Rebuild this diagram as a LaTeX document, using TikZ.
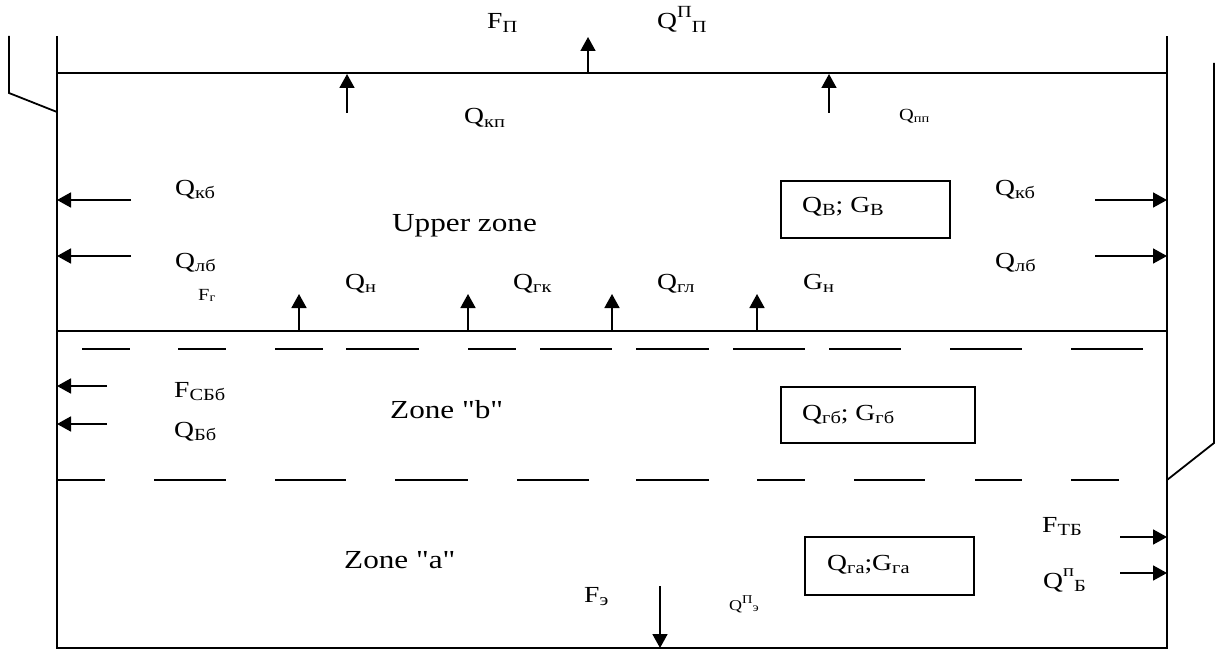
\documentclass[tikz,border=0pt]{standalone}
\usepackage{fontspec}
\setmainfont{Liberation Serif}[FakeStretch=1.2,Ligatures=TeXOff]
\usetikzlibrary{arrows.meta}
\newcommand\mysub[1]{\raisebox{-0.16em}{\fontsize{17}{17}\selectfont #1}}
\newcommand\mysup[1]{\raisebox{0.5em}{\fontsize{17}{17}\selectfont #1}}
\newcommand\smsub[1]{\raisebox{-0.1em}{\fontsize{12}{12}\selectfont #1}}
\newcommand\smsup[1]{\raisebox{0.45em}{\fontsize{12}{12}\selectfont #1}}
\begin{document}
\begin{tikzpicture}[x=1pt,y=-1pt,
  wall/.style={line width=1.8pt},
  dsh/.style={line width=1.5pt},
  arr/.style={line width=1.7pt,-{Triangle[length=14pt,width=15pt]}},
  lbl/.style={inner sep=0pt,anchor=base west,font=\fontsize{23}{26}\selectfont},
  small/.style={inner sep=0pt,anchor=base west,font=\fontsize{17}{20}\selectfont},
  tiny/.style={inner sep=0pt,anchor=base west,font=\fontsize{15}{18}\selectfont},
  zonelbl/.style={inner sep=0pt,anchor=base west,font=\fontsize{26}{30}\selectfont},
  valbox/.style={draw,line width=1.6pt}]
\useasboundingbox (0,0) rectangle (1215,650);
% walls
\draw[wall] (57,36) -- (57,648) -- (1167,648) -- (1167,36);
\draw[wall] (57,73) -- (1167,73);
\draw[wall] (57,331) -- (1167,331);
\draw[wall] (9,36) -- (9,93) -- (57,112);
\draw[wall] (1214,63) -- (1214,443) -- (1167,480);
% dashed lines
\foreach \a/\b in {82/130,178/226,275/323,346/419,468/516,540/612,636/709,733/805,829/901,950/1022,1071/1143}
  \draw[dsh] (\a,349) -- (\b,349);
\foreach \a/\b in {57/105,154/226,275/346,395/468,517/589,636/709,757/805,854/925,975/1022,1071/1119}
  \draw[dsh] (\a,480) -- (\b,480);
% boxes
\draw[valbox] (781,181) rectangle (950,238);
\draw[valbox] (781,387) rectangle (975,443);
\draw[valbox] (805,537) rectangle (974,595);
% arrows
\draw[arr] (588,73) -- (588,37);
\draw[arr] (347,113) -- (347,74);
\draw[arr] (829,113) -- (829,74);
\draw[arr] (131,200) -- (57,200);
\draw[arr] (131,256) -- (57,256);
\draw[arr] (1095,200) -- (1167,200);
\draw[arr] (1095,256) -- (1167,256);
\foreach \x in {299,468,612,757} \draw[arr] (\x,331) -- (\x,294);
\draw[arr] (107,386) -- (57,386);
\draw[arr] (107,424) -- (57,424);
\draw[arr] (1120,537) -- (1167,537);
\draw[arr] (1120,573) -- (1167,573);
\draw[arr] (660,586) -- (660,648);
% labels
\node[lbl] (fp) at (487,29) {F\mysub{П}};
\node[lbl] (qpp) at (657,29) {Q\mysup{П}\mysub{П}};
\node[lbl] (qkp) at (464,124) {Q\mysub{кп}};
\node[small] (qpp2) at (899,121) {Q\smsub{пп}};
\node[lbl] (qkbl) at (175,195) {Q\mysub{кб}};
\node[lbl] (qlbl) at (175,268) {Q\mysub{лб}};
\node[small] (fg) at (198,300) {F\smsub{г}};
\node[lbl] (qn) at (345,289) {Q\mysub{н}};
\node[lbl] (qgk) at (513,289) {Q\mysub{гк}};
\node[lbl] (qgl) at (657,289) {Q\mysub{гл}};
\node[lbl] (gn) at (803,289) {G\mysub{н}};
\node[zonelbl] (upz) at (392,231) {Upper zone};
\node[lbl] (qb) at (802,212) {Q\mysub{B}; G\mysub{B}};
\node[lbl] (qkbr) at (995,195) {Q\mysub{кб}};
\node[lbl] (qlbr) at (995,268) {Q\mysub{лб}};
\node[lbl] (fsbb) at (174,397) {F\mysub{СБб}};
\node[lbl] (qbb) at (174,437) {Q\mysub{Бб}};
\node[zonelbl] (zb) at (390,418) {Zone "b"};
\node[lbl] (qgb) at (802,420) {Q\mysub{гб}; G\mysub{гб}};
\node[zonelbl] (za) at (344,568) {Zone "a"};
\node[lbl] (fe) at (584,602) {F\mysub{э}};
\node[tiny] (qpe) at (729,610) {Q\smsup{П}\smsub{э}};
\node[lbl] (qga) at (827,570) {Q\mysub{га};G\mysub{га}};
\node[lbl] (ftb) at (1042,532) {F\mysub{ТБ}};
\node[lbl] (qpb) at (1043,588) {Q\mysup{п}\mysub{Б}};
\end{tikzpicture}
\end{document}
